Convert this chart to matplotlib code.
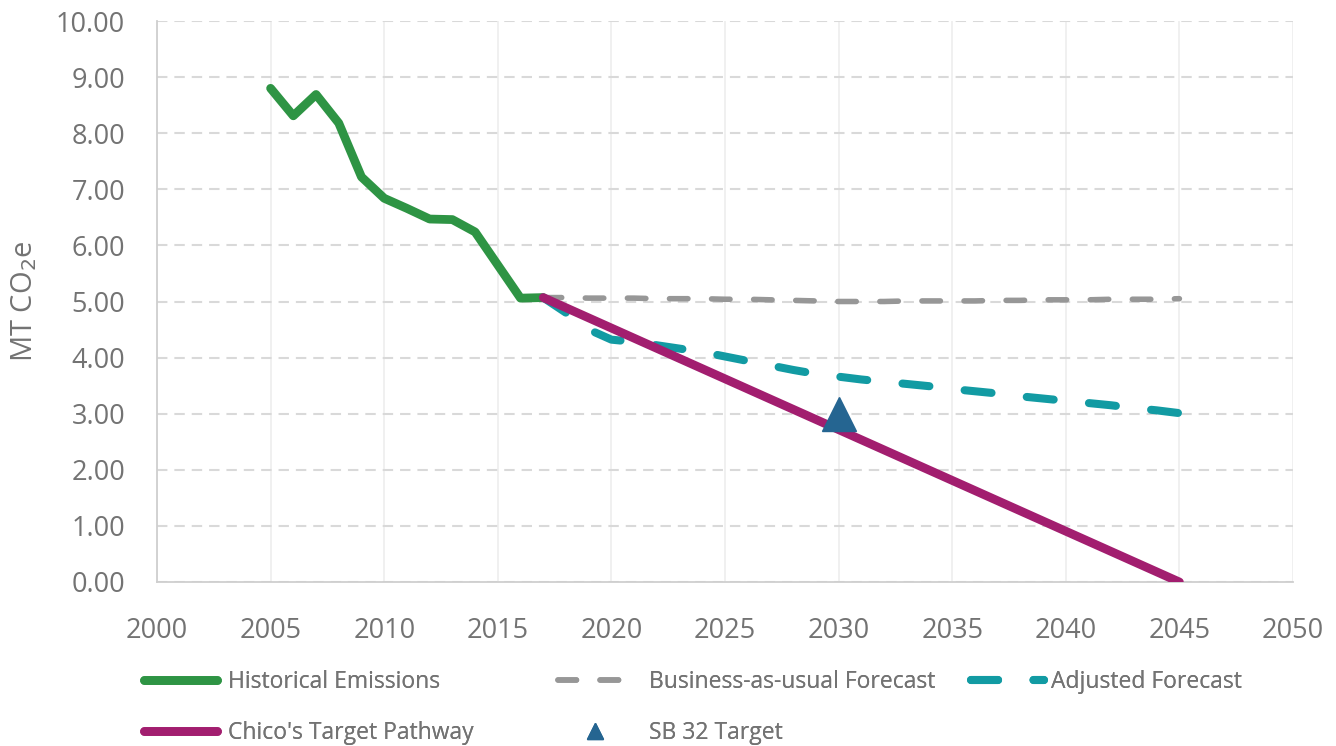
import matplotlib.pyplot as plt
from matplotlib.lines import Line2D
from matplotlib.ticker import FormatStrFormatter

plt.rcParams['font.family'] = ['Open Sans', 'DejaVu Sans']
plt.rcParams['lines.scale_dashes'] = False

# emissions history and forecasts (MT CO2e)
hist_years = [2005, 2006, 2007, 2008, 2009, 2010, 2011, 2012, 2013, 2014, 2015, 2016, 2017]
hist_values = [8.80, 8.31, 8.69, 8.18, 7.22, 6.84, 6.66, 6.47, 6.46, 6.24, 5.65, 5.06, 5.07]

fc_years = list(range(2017, 2046))
bau_values = [5.07, 5.07, 5.06, 5.06, 5.06, 5.05, 5.05, 5.05, 5.04, 5.04,
              5.03, 5.02, 5.01, 5.00, 5.00, 5.00, 5.01, 5.01, 5.01, 5.01,
              5.02, 5.02, 5.03, 5.03, 5.03, 5.04, 5.04, 5.04, 5.05]
adj_values = [5.07, 4.80, 4.50, 4.32, 4.28, 4.22, 4.16, 4.10, 4.02, 3.94,
              3.86, 3.78, 3.71, 3.66, 3.61, 3.57, 3.53, 3.49, 3.44, 3.40,
              3.36, 3.31, 3.27, 3.23, 3.19, 3.15, 3.10, 3.06, 3.01]

target_years = [2017, 2045]
target_values = [5.07, 0.00]

sb32_year = [2030]
sb32_value = [3.00]

GREEN = '#2E9444'
GREY = '#979797'
TEAL = '#129BA3'
MAGENTA = '#A21E6F'
BLUE = '#256591'
TXT = '#737373'

BAU_DASH = (13.3, 17)
ADJ_DASH = (19.5, 25.5)

fig = plt.figure(figsize=(13.36, 7.46), dpi=100)
ax = fig.add_axes([157/1336, 1 - 582/746, (1293-157)/1336, (582-21)/746])

ax.plot(hist_years, hist_values, color=GREEN, lw=6.3, solid_capstyle='round',
        solid_joinstyle='round', zorder=3)
ax.plot(fc_years, bau_values, color=GREY, lw=4, dashes=BAU_DASH,
        dash_capstyle='round', zorder=3)
ax.plot(fc_years, adj_values, color=TEAL, lw=5.8, dashes=ADJ_DASH,
        dash_capstyle='round', zorder=3)
ax.plot(target_years, target_values, color=MAGENTA, lw=6.3, solid_capstyle='round', zorder=4)
ax.plot(sb32_year, sb32_value, marker='^', color=BLUE, markersize=25, ls='none', zorder=5)

ax.set_xlim(2000, 2050)
ax.set_ylim(0, 10)
ax.set_xticks(range(2000, 2051, 5))
ax.set_yticks(range(0, 11))
ax.yaxis.set_major_formatter(FormatStrFormatter('%.2f'))
ax.tick_params(length=0, labelsize=19.5, colors=TXT)
ax.tick_params(axis='y', pad=23)
ax.tick_params(axis='x', pad=25)

ax.grid(axis='y', color='#D9D9D9', lw=1.5, dashes=(7.5, 5))
ax.grid(axis='x', color='#EEEEEE', lw=1.2)
ax.set_axisbelow(True)
for s in ['right', 'top']:
    ax.spines[s].set_visible(False)
for s in ['left', 'bottom']:
    ax.spines[s].set_color('#CFCFCF')
    ax.spines[s].set_linewidth(1.3)

ax.set_ylabel('MT CO$_2$e', fontsize=21, color=TXT, labelpad=12)

# legend entries laid out in a fixed grid under the axes
entries = [
    (Line2D([], [], color=GREEN, lw=6.3, solid_capstyle='round'),
     'Historical Emissions', 144, 682, 3.2, 0.45),
    (Line2D([], [], color=MAGENTA, lw=6.3, solid_capstyle='round'),
     "Chico's Target Pathway", 144, 733, 3.2, 0.45),
    (Line2D([], [], color=GREY, lw=4, dashes=BAU_DASH, dash_capstyle='round'),
     'Business-as-usual Forecast', 558, 682, 3.2, 0.75),
    (Line2D([], [], color=BLUE, marker='^', markersize=12, ls='none'),
     'SB 32 Target', 558, 733, 3.2, 0.75),
    (Line2D([], [], color=TEAL, lw=5.8, dashes=ADJ_DASH, dash_capstyle='round'),
     'Adjusted Forecast', 971, 682, 3.2, 0.3),
]
for h, lab, px, py, hl, tp in entries:
    leg = fig.legend([h], [lab], loc='center left', bbox_to_anchor=(px/1336, 1 - py/746),
                     frameon=False, fontsize=16.5, handlelength=hl, handletextpad=tp,
                     borderpad=0, borderaxespad=0)
    for t in leg.get_texts():
        t.set_color(TXT)
    fig.add_artist(leg)

fig.savefig('out.png', dpi=100)
